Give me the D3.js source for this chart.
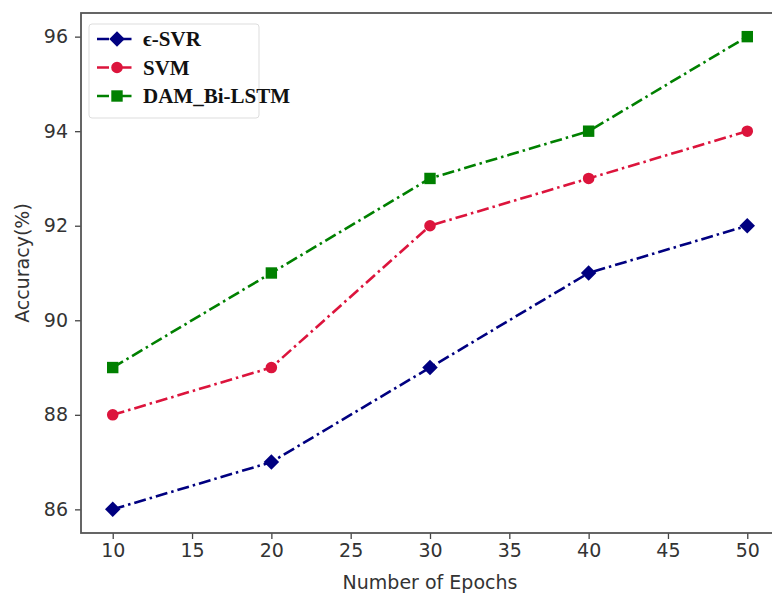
<!DOCTYPE html>
<html>
<head>
<meta charset="utf-8">
<script src="https://cdn.jsdelivr.net/npm/d3@7"></script>
<style>
  body { margin: 0; background: #fff; }
  svg { display: block; }
</style>
</head>
<body>
<div id="chart"></div>
<script>
// data
const epochs = [10, 20, 30, 40, 50];
const svrValues = [86, 87, 89, 91, 92];
const svmValues = [88, 89, 92, 93, 94];
const damValues = [89, 91, 93, 94, 96];
const xTicks = [10, 15, 20, 25, 30, 35, 40, 45, 50];
const yTicks = [86, 88, 90, 92, 94, 96];

const series = [
    { name: "\u03f5-SVR", values: svrValues, color: "#000080", symbol: "diamond" },
    { name: "SVM", values: svmValues, color: "#dc143c", symbol: "circle" },
    { name: "DAM_Bi-LSTM", values: damValues, color: "#008000", symbol: "square" }
];

const W = 772, H = 594;
const margin = { top: 13, right: -7, bottom: 61, left: 81 };
const width = W - margin.left - margin.right;
const height = H - margin.top - margin.bottom;

const svg = d3.select("#chart").append("svg")
    .attr("width", W).attr("height", H);

const g = svg.append("g")
    .attr("transform", `translate(${margin.left},${margin.top})`);

// matplotlib style 5% margins
const xScale = d3.scaleLinear().domain([8, 52]).range([0, width]);
const yScale = d3.scaleLinear().domain([85.5, 96.5]).range([height, 0]);

const tickFont = "'DejaVu Sans', sans-serif";

// x axis
const xAxis = g.append("g")
    .attr("transform", `translate(0,${height})`)
    .call(d3.axisBottom(xScale).tickValues(xTicks).tickSize(6).tickPadding(5));
xAxis.select(".domain").remove();
xAxis.selectAll("line").attr("stroke", "#444").attr("stroke-width", 1.3);
xAxis.selectAll("text").attr("font-family", tickFont).attr("font-size", 19).attr("fill", "#333");

// y axis
const yAxis = g.append("g")
    .call(d3.axisLeft(yScale).tickValues(yTicks).tickSize(6).tickPadding(7));
yAxis.select(".domain").remove();
yAxis.selectAll("line").attr("stroke", "#444").attr("stroke-width", 1.3);
yAxis.selectAll("text").attr("font-family", tickFont).attr("font-size", 19).attr("fill", "#333");

// spines (right one falls outside the picture, like the cropped original)
g.append("rect")
    .attr("x", 0).attr("y", 0)
    .attr("width", width).attr("height", height)
    .attr("fill", "none")
    .attr("stroke", "#555")
    .attr("stroke-width", 1.8);

// axis labels
svg.append("text")
    .attr("x", 430).attr("y", 589)
    .attr("text-anchor", "middle")
    .attr("font-family", tickFont).attr("font-size", 19).attr("fill", "#333")
    .text("Number of Epochs");

svg.append("text")
    .attr("transform", "translate(29,263) rotate(-90)")
    .attr("text-anchor", "middle")
    .attr("font-family", tickFont).attr("font-size", 19).attr("fill", "#333")
    .text("Accuracy(%)");

// matplotlib 'D' is a square turned 45 degrees
const markerPath = {
    diamond: d3.symbol().type(d3.symbolSquare).size(120)(),
    circle: d3.symbol().type(d3.symbolCircle).size(105)(),
    square: d3.symbol().type(d3.symbolSquare).size(130)()
};
const markerRotate = { diamond: 45, circle: 0, square: 0 };

const line = d3.line()
    .x((d, i) => xScale(epochs[i]))
    .y(d => yScale(d));

series.forEach(s => {
    g.append("path")
        .datum(s.values)
        .attr("d", line)
        .attr("fill", "none")
        .attr("stroke", s.color)
        .attr("stroke-width", 2.6)
        .attr("stroke-dasharray", "12,4,2.5,4");

    g.selectAll(null)
        .data(s.values)
        .enter()
        .append("path")
        .attr("d", markerPath[s.symbol])
        .attr("transform", (d, i) => `translate(${xScale(epochs[i])},${yScale(d)}) rotate(${markerRotate[s.symbol]})`)
        .attr("fill", s.color);
});

// legend
const legend = svg.append("g").attr("transform", "translate(89,24)");
legend.append("rect")
    .attr("width", 170).attr("height", 94)
    .attr("rx", 3)
    .attr("fill", "#fff")
    .attr("fill-opacity", 0.8)
    .attr("stroke", "#ddd")
    .attr("stroke-width", 1);

series.forEach((s, i) => {
    const cy = 15 + i * 28.5;
    legend.append("line")
        .attr("x1", 8).attr("x2", 46)
        .attr("y1", cy).attr("y2", cy)
        .attr("stroke", s.color)
        .attr("stroke-width", 2.6)
        .attr("stroke-dasharray", "12,4,2.5,4");
    legend.append("path")
        .attr("d", markerPath[s.symbol])
        .attr("transform", `translate(28,${cy}) rotate(${markerRotate[s.symbol]})`)
        .attr("fill", s.color);
    legend.append("text")
        .attr("x", 54).attr("y", cy + 7)
        .attr("font-family", "'Liberation Serif', 'Times New Roman', serif")
        .attr("font-weight", "bold")
        .attr("font-size", 21)
        .attr("fill", "#111")
        .text(s.name);
});
</script>
</body>
</html>
